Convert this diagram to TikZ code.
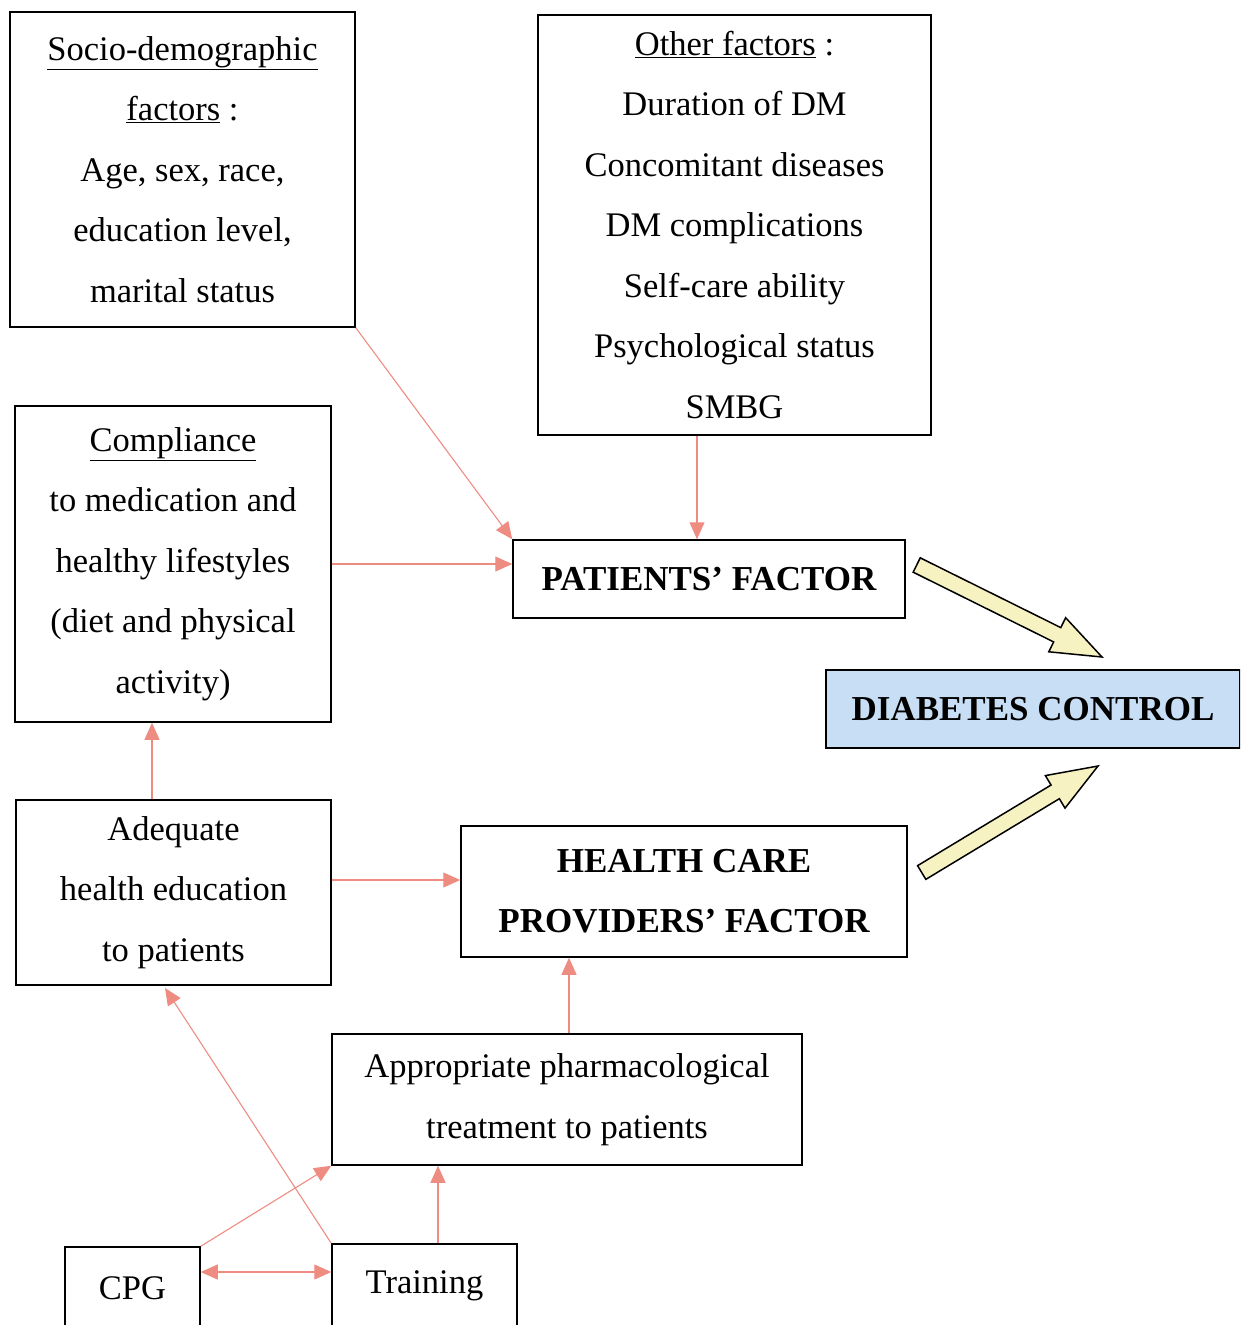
\documentclass[tikz,border=0pt]{standalone}
\usepackage{fontspec}
\setmainfont{Liberation Serif}
\usetikzlibrary{arrows.meta,calc}
\definecolor{arrowpink}{HTML}{EE8C82}
\definecolor{dcblue}{HTML}{C8DEF4}
\definecolor{bigyellow}{HTML}{F6F2C2}
\begin{document}
\begin{tikzpicture}[x=1pt,y=-1pt,
  box/.style={draw=black,line width=1.5pt,inner sep=0pt,align=center,
    font=\fontsize{34.5}{60.5}\selectfont},
  bbox/.style={box,font=\fontsize{35}{60}\selectfont\bfseries},
  con/.style={draw=arrowpink,line width=1.1pt,-{Triangle[length=17pt,width=15pt,fill=arrowpink]}},
  bicon/.style={draw=arrowpink,line width=1.1pt,{Triangle[length=17pt,width=15pt,fill=arrowpink]}-{Triangle[length=17pt,width=15pt,fill=arrowpink]}},
  bigarrow/.style={draw=black,line width=1.5pt,fill=bigyellow,line join=miter}]
\useasboundingbox (0,0) rectangle (1240,1325);
\clip (0,0) rectangle (1240,1325);

\node[box,minimum width=345pt,minimum height=315pt] (socio) at (182.5,169.5)
  {\underline{Socio-demographic}\\ \underline{factors} :\\ Age, sex, race,\\ education level,\\ marital status};
\node[box,minimum width=393pt,minimum height=420pt] (other) at (734.5,225)
  {\underline{Other factors} :\\ Duration of DM\\ Concomitant diseases\\ DM complications\\ Self-care ability\\ Psychological status\\ SMBG};
\node[box,minimum width=316pt,minimum height=316pt] (comp) at (173,564)
  {\underline{Compliance}\\ to medication and\\ healthy lifestyles\\ (diet and physical\\ activity)};
\node[bbox,minimum width=392pt,minimum height=78pt] (pat) at (709,579) {PATIENTS’ FACTOR};
\node[bbox,fill=dcblue,minimum width=414pt,minimum height=78pt] (dc) at (1033,709) {DIABETES CONTROL};
\node[box,minimum width=315pt,minimum height=185pt] (adeq) at (173.5,892.5)
  {Adequate\\ health education\\ to patients};
\node[bbox,minimum width=446pt,minimum height=131pt] (hcp) at (684,891.5)
  {HEALTH CARE\\ PROVIDERS’ FACTOR};
\node[box,minimum width=470pt,minimum height=131pt] (appr) at (567,1099.5)
  {Appropriate pharmacological\\ treatment to patients};
\node[box,minimum width=135pt,minimum height=83pt] (cpg) at (132.5,1288.5) {CPG};
\node[box,minimum width=185pt,minimum height=84pt] (train) at (424.5,1286) {Training};

% helper coordinates
\coordinate (x697) at (697,0);
\coordinate (x152) at (152,0);
\coordinate (y880) at (0,880);
\coordinate (x569) at (569,0);
\coordinate (x438) at (438,0);
\coordinate (y1272) at (0,1272);
\coordinate (adeqtip) at (165,988);

% pink connectors
\draw[con] (socio.south east) -- (pat.north west);
\draw[con] (other.south -| x697) -- (pat.north -| x697);
\draw[con] (comp.east) -- (pat.west |- comp.east);
\draw[con] (adeq.north -| x152) -- (comp.south -| x152);
\draw[con] (adeq.east |- y880) -- (hcp.west |- y880);
\draw[con] (appr.north -| x569) -- (hcp.south -| x569);
\draw[con] (train.north west) -- (adeqtip);
\draw[con] (cpg.north east) -- (appr.south west);
\draw[bicon] (cpg.east |- y1272) -- (train.west |- y1272);
\draw[con] (train.north -| x438) -- (appr.south -| x438);

% big yellow arrows
\coordinate (a1t) at (916.7,565);
\coordinate (a1h) at (1102,657);
\coordinate (a1n) at ($(a1h)!50pt!(a1t)$);
\draw[bigarrow] ($(a1t)!8pt!90:(a1h)$) -- ($(a1n)!8pt!-90:(a1t)$) -- ($(a1n)!19pt!-90:(a1t)$)
  -- (a1h) -- ($(a1n)!19pt!90:(a1t)$) -- ($(a1n)!8pt!90:(a1t)$) -- ($(a1t)!8pt!-90:(a1h)$) -- cycle;
\coordinate (a2t) at (921.7,872.5);
\coordinate (a2h) at (1098,766);
\coordinate (a2n) at ($(a2h)!50pt!(a2t)$);
\draw[bigarrow] ($(a2t)!8pt!90:(a2h)$) -- ($(a2n)!8pt!-90:(a2t)$) -- ($(a2n)!19pt!-90:(a2t)$)
  -- (a2h) -- ($(a2n)!19pt!90:(a2t)$) -- ($(a2n)!8pt!90:(a2t)$) -- ($(a2t)!8pt!-90:(a2h)$) -- cycle;
\end{tikzpicture}
\end{document}
